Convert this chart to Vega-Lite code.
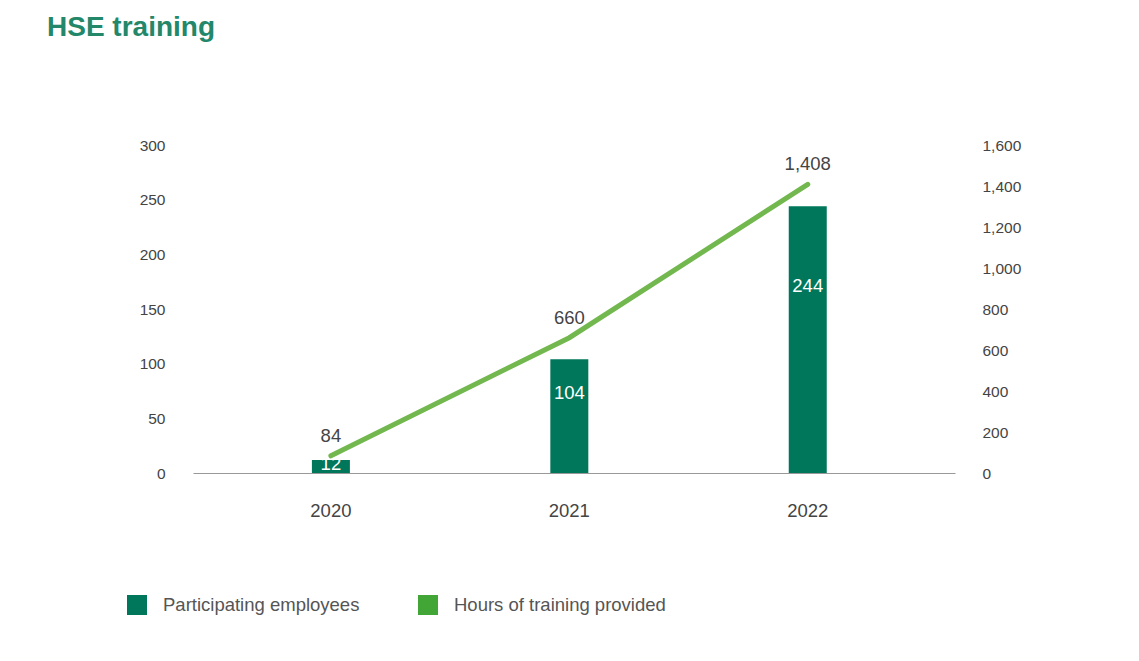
{
  "$schema": "https://vega.github.io/schema/vega-lite/v6.json",
  "autosize": "none",
  "width": 762,
  "height": 328,
  "padding": {"left": 193, "top": 145, "right": 184, "bottom": 188},
  "background": "white",
  "config": {
    "font": "Liberation Sans",
    "view": {"stroke": null}
  },
  "title": {
    "text": "HSE training",
    "anchor": "start",
    "frame": "group",
    "dx": -146,
    "offset": 96,
    "fontSize": 28,
    "fontWeight": "bold",
    "color": "#23876A",
    "font": "Liberation Sans"
  },
  "data": {
    "values": [
      {"year": "2020", "employees": 12, "hours": 84},
      {"year": "2021", "employees": 104, "hours": 660},
      {"year": "2022", "employees": 244, "hours": 1408}
    ]
  },
  "encoding": {
    "x": {
      "field": "year",
      "type": "nominal",
      "scale": {"paddingInner": 0, "paddingOuter": 0.098, "align": 0.4},
      "axis": {
        "title": null,
        "labelAngle": 0,
        "labelFontSize": 18.5,
        "labelColor": "#444444",
        "labelPadding": 28,
        "ticks": false,
        "domainColor": "#999999",
        "domainWidth": 1
      }
    }
  },
  "layer": [
    {
      "layer": [
        {
          "mark": {"type": "bar", "width": 38, "color": "#00775A"},
          "encoding": {
            "y": {
              "field": "employees",
              "type": "quantitative",
              "scale": {"domain": [0, 300]},
              "axis": {
                "title": null,
                "values": [0, 50, 100, 150, 200, 250, 300],
                "grid": false,
                "domain": false,
                "ticks": false,
                "labelFontSize": 15.5,
                "labelColor": "#444444",
                "labelPadding": 28
              }
            },
            "color": {
              "datum": "Participating employees",
              "type": "nominal",
              "scale": {
                "domain": ["Participating employees", "Hours of training provided"],
                "range": ["#00775A", "#42A637"]
              },
              "legend": {
                "title": null,
                "orient": "none",
                "legendX": -66,
                "legendY": 450,
                "direction": "horizontal",
                "symbolType": "square",
                "symbolSize": 400,
                "symbolStrokeWidth": 0,
                "labelFontSize": 18.5,
                "labelColor": "#555555",
                "labelOffset": 16,
                "columnPadding": 58,
                "labelLimit": 400
              }
            }
          }
        },
        {
          "transform": [{"calculate": "datum.employees * 0.7", "as": "labelPos"}],
          "mark": {"type": "text", "color": "white", "fontSize": 18.5, "baseline": "middle"},
          "encoding": {
            "y": {"field": "labelPos", "type": "quantitative", "scale": {"domain": [0, 300]}},
            "text": {"field": "employees", "type": "quantitative"}
          }
        }
      ]
    },
    {
      "layer": [
        {
          "mark": {"type": "line", "color": "#72B84F", "strokeWidth": 5, "strokeCap": "round"},
          "encoding": {
            "y": {
              "field": "hours",
              "type": "quantitative",
              "scale": {"domain": [0, 1600]},
              "axis": {
                "orient": "right",
                "title": null,
                "values": [0, 200, 400, 600, 800, 1000, 1200, 1400, 1600],
                "format": ",.0f",
                "grid": false,
                "domain": false,
                "ticks": false,
                "labelFontSize": 15.5,
                "labelColor": "#444444",
                "labelPadding": 27
              }
            }
          }
        },
        {
          "mark": {"type": "text", "color": "#444444", "fontSize": 18.5, "dy": -20, "baseline": "middle"},
          "encoding": {
            "y": {"field": "hours", "type": "quantitative", "scale": {"domain": [0, 1600]}},
            "text": {"field": "hours", "type": "quantitative", "format": ","}
          }
        }
      ]
    }
  ],
  "resolve": {"scale": {"y": "independent"}}
}
